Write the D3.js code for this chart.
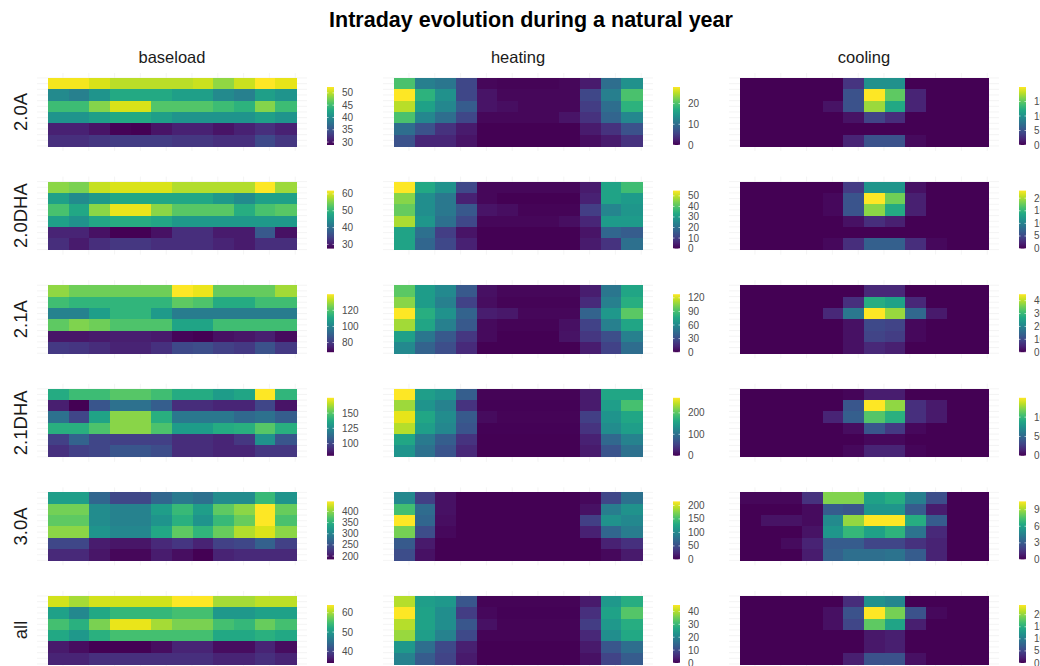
<!DOCTYPE html>
<html>
<head>
<meta charset="utf-8">
<script src="https://cdn.jsdelivr.net/npm/d3@7"></script>
<style>
  body { margin: 0; background: #ffffff; }
  text { font-family: "Liberation Sans", Arial, sans-serif; }
</style>
</head>
<body>
<svg width="1040" height="666"></svg>
<script>
var tariffs = ["2.0A", "2.0DHA", "2.1A", "2.1DHA", "3.0A", "all"];
var components = ["baseload", "heating", "cooling"];
var months = [1, 2, 3, 4, 5, 6, 7, 8, 9, 10, 11, 12];
var blocks = [0, 1, 2, 3, 4, 5];   // intraday blocks, top to bottom

// baseload
var baseload_20A = [
  [52, 52, 51, 50, 50, 50, 50, 50.5, 48.5, 50.5, 52.4, 51.5],
  [40, 39, 41, 43, 43, 43, 42, 42, 40, 39, 42, 41],
  [45, 45, 48, 51, 51, 46, 46, 46, 45, 44, 48, 45],
  [41, 41, 42, 43, 43, 42, 41, 41, 41, 41, 42, 41],
  [31, 31, 30, 29, 28.8, 30, 31, 31, 30, 31, 32, 31],
  [32, 32, 32.5, 33, 33, 33, 32.5, 32.5, 32, 32, 34, 32.5]
];
var baseload_20DHA = [
  [56, 55, 59, 60, 60, 60, 58, 58, 58, 58, 62, 57],
  [47, 44, 46, 48, 48, 48, 48, 48, 46, 44, 47, 47],
  [52, 48, 56, 61, 61, 56, 53, 53, 53, 49, 52, 53],
  [47, 45, 48, 49, 49, 48, 46, 46, 46, 46, 46, 46],
  [31, 31, 29, 27.5, 27.5, 29, 32, 32, 30, 30, 37, 29],
  [32, 30, 32, 33, 33, 32, 32, 32, 31, 30, 32, 32]
];
var baseload_21A = [
  [128, 124, 124, 124, 124, 124, 140, 138, 123, 123, 123, 130],
  [118, 115, 115, 115, 115, 115, 122, 120, 112, 112, 118, 118],
  [100, 100, 108, 115, 115, 107, 98, 98, 98, 98, 98, 98],
  [122, 126, 124, 120, 120, 120, 110, 110, 118, 118, 118, 118],
  [72, 72, 73, 74, 74, 73, 69, 68, 71, 72, 74, 70],
  [80, 79, 77, 75, 75, 78, 84, 85, 82, 80, 86, 80]
];
var baseload_21DHA = [
  [138, 145, 145, 150, 150, 146, 138, 138, 132, 136, 175, 142],
  [88, 80, 105, 115, 115, 108, 92, 92, 90, 90, 100, 85],
  [115, 100, 135, 158, 158, 140, 118, 118, 118, 112, 115, 108],
  [140, 140, 148, 158, 158, 148, 132, 132, 138, 140, 150, 140],
  [98, 110, 100, 98, 98, 98, 92, 92, 90, 95, 128, 105],
  [93, 98, 100, 105, 105, 102, 92, 92, 90, 90, 95, 95]
];
var baseload_30A = [
  [330, 330, 270, 240, 240, 270, 290, 280, 310, 310, 360, 320],
  [390, 390, 310, 300, 300, 330, 360, 330, 380, 400, 445, 385],
  [380, 380, 310, 300, 300, 320, 350, 320, 360, 385, 445, 370],
  [400, 400, 320, 305, 305, 340, 380, 355, 385, 415, 430, 400],
  [240, 240, 205, 200, 200, 215, 225, 210, 235, 240, 265, 235],
  [215, 215, 200, 190, 190, 205, 195, 185, 210, 215, 215, 215]
];
var baseload_all = [
  [62, 60, 62, 62, 62, 62, 64, 64, 60, 60, 61, 61],
  [51, 48, 52, 54, 54, 54, 55, 55, 50, 50, 51, 51],
  [55, 53, 58, 63, 63, 60, 58, 58, 55, 54, 57, 55],
  [52, 50, 53, 55, 55, 55, 55, 55, 52, 52, 53, 52],
  [36, 35, 34, 34, 34, 35, 37, 37, 35, 35, 37, 35],
  [37, 37, 38, 38, 38, 38, 38, 38, 37, 37, 38, 37]
];

// heating
var heating_20A = [
  [20, 12, 11, 6, 0.5, 0.3, 0.3, 0.3, 0.5, 2, 10, 14],
  [28, 18, 14, 6, 1.5, 0.5, 0.5, 0.5, 0.5, 6, 12, 20],
  [25, 16, 13, 8, 1.5, 1, 0.5, 0.5, 0.5, 5, 10, 18],
  [20, 13, 10, 6, 0.5, 0.5, 0.5, 0.5, 1.5, 4, 9, 13],
  [10, 7, 4, 2, 0, 0, 0, 0, 0, 2, 4, 7],
  [7, 3, 3, 1.5, 0, 0, 0, 0, 0, 1, 2, 4]
];
var heating_20DHA = [
  [55, 33, 28, 12, 1, 1, 1, 1, 1, 4, 32, 38],
  [45, 27, 22, 5, 1, 0, 0, 0, 0, 5, 32, 30],
  [42, 27, 22, 15, 3, 2, 0.5, 0.5, 0.5, 10, 25, 29],
  [48, 29, 20, 12, 1, 1, 1, 1, 2, 6, 30, 30],
  [32, 20, 10, 3, 0, 0, 0, 0, 0, 3, 18, 16],
  [32, 18, 12, 5, 0, 0, 0, 0, 0, 4, 8, 20]
];
var heating_21A = [
  [95, 70, 60, 35, 5, 2, 2, 2, 2, 10, 50, 75],
  [105, 70, 55, 25, 4, 1, 1, 1, 1, 15, 55, 80],
  [128, 80, 65, 40, 10, 8, 2, 2, 2, 40, 68, 95],
  [110, 75, 55, 35, 3, 1, 1, 1, 5, 25, 55, 75],
  [72, 50, 35, 20, 3, 0, 0, 0, 6, 20, 30, 55],
  [60, 40, 30, 15, 0, 0, 0, 0, 0, 10, 25, 45]
];
var heating_21DHA = [
  [270, 150, 140, 80, 3, 3, 3, 3, 3, 20, 160, 160],
  [230, 140, 120, 40, 2, 2, 2, 2, 2, 20, 150, 190],
  [260, 160, 130, 75, 8, 3, 3, 3, 3, 50, 140, 160],
  [240, 150, 125, 70, 2, 2, 2, 2, 2, 40, 130, 150],
  [160, 110, 80, 40, 0, 0, 0, 0, 0, 25, 90, 120],
  [140, 100, 70, 30, 0, 0, 0, 0, 0, 20, 70, 100]
];
var heating_30A = [
  [100, 40, 10, 0, 0, 0, 0, 0, 0, 5, 45, 80],
  [150, 75, 10, 0, 0, 0, 0, 0, 0, 10, 90, 110],
  [215, 70, 8, 0, 0, 0, 0, 0, 0, 40, 110, 100],
  [170, 50, 5, 0, 0, 0, 0, 0, 0, 20, 70, 90],
  [60, 15, 0, 0, 0, 0, 0, 0, 0, 0, 20, 30],
  [50, 10, 0, 0, 0, 0, 0, 0, 0, 0, 5, 15]
];
var heating_all = [
  [40, 25, 24, 12, 0.5, 0.5, 0.5, 0.5, 0.5, 3, 24, 28],
  [45, 26, 22, 8, 1, 0.3, 0.3, 0.3, 0.3, 6, 26, 33],
  [40, 26, 22, 12, 2, 0.5, 0.5, 0.5, 0.5, 8, 24, 28],
  [38, 25, 20, 10, 0.5, 0.5, 0.5, 0.5, 0.5, 5, 22, 27],
  [24, 16, 10, 4, 0, 0, 0, 0, 0, 3, 12, 16],
  [20, 13, 9, 3, 0, 0, 0, 0, 0, 2, 9, 13]
];

// cooling
var cooling_20A = [
  [0, 0, 0, 0, 0, 3, 10, 10, 0, 0, 0, 0],
  [0, 0, 0, 0, 0, 5, 20, 15, 2, 0, 0, 0],
  [0, 0, 0, 0, 1, 5, 17, 12, 2, 0, 0, 0],
  [0, 0, 0, 0, 0, 1, 4, 2.5, 0, 0, 0, 0],
  [0, 0, 0, 0, 0, 0, 0, 0, 0, 0, 0, 0],
  [0, 0, 0, 0, 0, 2, 5, 5, 0.5, 0, 0, 0]
];
var cooling_20DHA = [
  [0, 0, 0, 0, 0, 4, 12, 12, 1, 0, 0, 0],
  [0, 0, 0, 0, 0.5, 6, 23, 18, 2, 0, 0, 0],
  [0, 0, 0, 0, 0.5, 6, 19, 14, 2, 0, 0, 0],
  [0, 0, 0, 0, 0, 1, 3, 2, 0, 0, 0, 0],
  [0, 0, 0, 0, 0, 0, 0, 0, 0, 0, 0, 0],
  [0, 0, 0, 0, 0.5, 3, 7, 7, 3, 0.5, 0, 0]
];
var cooling_21A = [
  [0, 0, 0, 0, 0, 0, 5, 5, 0, 0, 0, 0],
  [0, 0, 0, 0, 0, 6, 28, 26, 5, 0, 0, 0],
  [0, 0, 0, 0, 5, 18, 45, 38, 15, 3, 0, 0],
  [0, 0, 0, 0, 0, 2, 10, 9, 1, 0, 0, 0],
  [0, 0, 0, 0, 0, 2, 9, 8, 1, 0, 0, 0],
  [0, 0, 0, 0, 0, 2, 5, 4, 0, 0, 0, 0]
];
var cooling_21DHA = [
  [0, 0, 0, 0, 0, 2, 12, 12, 0, 0, 0, 0],
  [0, 0, 0, 0, 0, 40, 150, 125, 20, 10, 0, 0],
  [0, 0, 0, 0, 15, 45, 110, 95, 20, 10, 0, 0],
  [0, 0, 0, 0, 0, 5, 40, 25, 3, 0, 0, 0],
  [0, 0, 0, 0, 0, 0, 3, 3, 0, 0, 0, 0],
  [0, 0, 0, 0, 0, 3, 15, 15, 2, 0, 0, 0]
];
var cooling_30A = [
  [2, 2, 2, 15, 85, 85, 60, 65, 45, 25, 0, 0],
  [0, 0, 0, 3, 30, 28, 55, 55, 30, 8, 0, 0],
  [0, 5, 5, 3, 50, 88, 105, 105, 65, 30, 0, 0],
  [0, 0, 0, 5, 55, 70, 60, 68, 40, 12, 0, 0],
  [0, 0, 3, 10, 30, 30, 22, 22, 15, 10, 0, 0],
  [0, 0, 0, 8, 32, 38, 38, 40, 30, 10, 0, 0]
];
var cooling_all = [
  [0, 0, 0, 0, 0, 3, 12, 11, 0, 0, 0, 0],
  [0, 0, 0, 0, 1, 6, 24, 19, 6, 0.5, 0, 0],
  [0, 0, 0, 0, 1, 5, 18, 14, 2, 0, 0, 0],
  [0, 0, 0, 0, 0, 0, 1.5, 2, 0, 0, 0, 0],
  [0, 0, 0, 0, 0, 0, 1.5, 2, 0, 0, 0, 0],
  [0, 0, 0, 0, 0, 2, 6, 6, 1, 0, 0, 0]
];

// legend tick labels
var ticks_baseload = [[30, 35, 40, 45, 50], [30, 40, 50, 60], [80, 100, 120], [100, 125, 150], [200, 250, 300, 350, 400], [40, 50, 60]];
var ticks_heating = [[0, 10, 20], [0, 10, 20, 30, 40, 50], [0, 30, 60, 90, 120], [0, 100, 200], [0, 50, 100, 150, 200], [0, 10, 20, 30, 40]];
var ticks_cooling = [[0, 5, 10, 15], [0, 5, 10, 15, 20], [0, 10, 20, 30, 40], [0, 50, 100], [0, 30, 60, 90], [0, 5, 10, 15, 20]];

var panels = {
  baseload: [baseload_20A, baseload_20DHA, baseload_21A, baseload_21DHA, baseload_30A, baseload_all],
  heating: [heating_20A, heating_20DHA, heating_21A, heating_21DHA, heating_30A, heating_all],
  cooling: [cooling_20A, cooling_20DHA, cooling_21A, cooling_21DHA, cooling_30A, cooling_all]
};
var ticks = { baseload: ticks_baseload, heating: ticks_heating, cooling: ticks_cooling };

var svg = d3.select("svg");
var defs = svg.append("defs");

var left0 = 48, colStep = 346, panelW = 248;
var top0 = 78, rowStep = 103.6, panelH = 68;

svg.append("text")
    .attr("x", 531)
    .attr("y", 27)
    .style("text-anchor", "middle")
    .style("font-weight", "bold")
    .style("font-size", "21.5px")
    .style("fill", "#000")
    .text("Intraday evolution during a natural year");

components.forEach(function(comp, ci) {
    svg.append("text")
        .attr("x", left0 + ci * colStep + panelW / 2)
        .attr("y", 63)
        .style("text-anchor", "middle")
        .style("font-size", "16.5px")
        .style("fill", "#1a1a1a")
        .text(comp);
});

tariffs.forEach(function(t, ri) {
    var cy = top0 + ri * rowStep + panelH / 2;
    svg.append("text")
        .attr("transform", "translate(27," + cy + ") rotate(-90)")
        .style("text-anchor", "middle")
        .style("font-size", "18.5px")
        .style("fill", "#1a1a1a")
        .text(t);
});

function drawPanel(comp, ci, ri) {
    var data = panels[comp][ri];
    var x0 = left0 + ci * colStep;
    var y0 = top0 + ri * rowStep;

    var xs = d3.scaleBand().domain(months).range([0, panelW]);
    var ys = d3.scaleBand().domain(blocks).range([0, panelH]);
    var flat = d3.merge(data);
    var color = d3.scaleSequential(d3.interpolateViridis).domain(d3.extent(flat));

    var g = svg.append("g").attr("transform", "translate(" + x0 + "," + y0 + ")");

    // faint grid, only seen round the tiles
    var gx = d3.scaleLinear().domain([0, 9.6]).range([15, 15 + 9.6 * 25.8]);
    var half = ys.step() / 2;
    g.selectAll("line.gh")
        .data(d3.range(0, 13))
        .enter().append("line")
        .attr("x1", -11).attr("x2", panelW + 11)
        .attr("y1", function(d) { return d * half; })
        .attr("y2", function(d) { return d * half; })
        .style("stroke", "#ededed").style("stroke-width", 0.6);
    g.selectAll("line.gv")
        .data(d3.range(0, 10))
        .enter().append("line")
        .attr("x1", function(d) { return gx(d); }).attr("x2", function(d) { return gx(d); })
        .attr("y1", -5).attr("y2", panelH + 5)
        .style("stroke", "#ededed").style("stroke-width", 0.6);

    var cells = [];
    data.forEach(function(row, b) {
        row.forEach(function(v, m) { cells.push({ block: blocks[b], month: months[m], value: v }); });
    });

    g.selectAll("rect.cell")
        .data(cells)
        .enter().append("rect")
        .attr("x", function(d) { return xs(d.month); })
        .attr("y", function(d) { return ys(d.block); })
        .attr("width", xs.bandwidth() + 0.6)
        .attr("height", ys.bandwidth() + 0.6)
        .attr("shape-rendering", "crispEdges")
        .style("fill", function(d) { return color(d.value); });

    // colour bar
    var id = "grad_" + comp + "_" + ri;
    var grad = defs.append("linearGradient").attr("id", id)
        .attr("x1", 0).attr("y1", 1).attr("x2", 0).attr("y2", 0);
    d3.range(0, 1.001, 0.1).forEach(function(p) {
        grad.append("stop").attr("offset", p)
            .attr("stop-color", d3.interpolateViridis(p));
    });
    var barTop = y0 + 9, barBot = y0 + panelH - 1;
    var bx = x0 + 279;
    var ls = d3.scaleLinear().domain(color.domain()).range([barBot, barTop]);
    svg.append("rect")
        .attr("x", bx).attr("y", barTop)
        .attr("width", 7).attr("height", barBot - barTop)
        .style("fill", "url(#" + id + ")");
    var tv = ticks[comp][ri];
    svg.selectAll(null)
        .data(tv)
        .enter().append("line")
        .attr("x1", bx).attr("x2", bx + 1.5)
        .attr("y1", function(d) { return ls(d); }).attr("y2", function(d) { return ls(d); })
        .style("stroke", "#fff").style("stroke-width", 0.6);
    svg.selectAll(null)
        .data(tv)
        .enter().append("line")
        .attr("x1", bx + 5.5).attr("x2", bx + 7)
        .attr("y1", function(d) { return ls(d); }).attr("y2", function(d) { return ls(d); })
        .style("stroke", "#fff").style("stroke-width", 0.6);
    svg.selectAll(null)
        .data(tv)
        .enter().append("text")
        .attr("x", bx + 15)
        .attr("y", function(d) { return ls(d); })
        .attr("dy", "0.35em")
        .style("font-size", "10px")
        .style("fill", "#4d4d4d")
        .text(function(d) { return d; });
}

components.forEach(function(comp, ci) {
    tariffs.forEach(function(t, ri) { drawPanel(comp, ci, ri); });
});
</script>
</body>
</html>
